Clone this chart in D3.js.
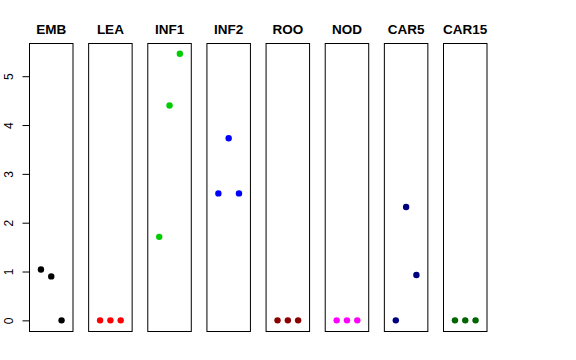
<!DOCTYPE html>
<html lang="en">
<head>
    <meta charset="UTF-8">
    <title>Panels</title>
    <script src="https://d3js.org/d3.v7.min.js"></script>
    <style>
        body { margin: 0; padding: 0; background: #fff; }
        svg { display: block; font-family: 'Liberation Sans', Arial, sans-serif; }
        .title { font-weight: bold; font-size: 13.5px; }
        .axis text { font-size: 12px; }
    </style>
</head>
<body>
    <svg width="576" height="360"></svg>
    <script>
        // Data
        const categories = ["EMB", "LEA", "INF1", "INF2", "ROO", "NOD", "CAR5", "CAR15"];
        const seriesValues = [
            [1.04, 0.90, 0.00],
            [0.00, 0.00, 0.00],
            [1.71, 4.40, 5.46],
            [2.60, 3.73, 2.60],
            [0.00, 0.00, 0.00],
            [0.00, 0.00, 0.00],
            [0.00, 2.32, 0.93],
            [0.00, 0.00, 0.00]
        ];
        const colors = ["#000000", "#ff0000", "#00cd00", "#0000ff", "#8b0000", "#ff00ff", "#000080", "#006400"];
        const yTicks = [0, 1, 2, 3, 4, 5];

        const svg = d3.select("svg");

        const panel = d3.scaleBand()
            .domain(categories)
            .range([29, 487.5])
            .paddingInner(0.2476);

        const x = d3.scaleLinear()
            .domain([-0.16, 4.16])
            .range([0, panel.bandwidth()]);

        const y = d3.scaleLinear()
            .domain([-0.218, 5.68])
            .range([331, 43]);

        const g = svg.selectAll("g.panel")
            .data(categories)
            .join("g")
            .attr("class", "panel")
            .attr("transform", d => `translate(${panel(d)},0)`);

        g.append("rect")
            .attr("x", 0.5)
            .attr("y", y.range()[1] + 0.5)
            .attr("width", panel.bandwidth() - 1)
            .attr("height", y.range()[0] - y.range()[1])
            .attr("fill", "none")
            .attr("stroke", "#000");

        g.append("text")
            .attr("class", "title")
            .attr("x", panel.bandwidth() / 2)
            .attr("y", 34)
            .attr("text-anchor", "middle")
            .text(d => d);

        g.selectAll("circle")
            .data((d, i) => seriesValues[i].map((v, j) => ({ v, j, c: colors[i] })))
            .join("circle")
            .attr("cx", d => x(d.j + 1))
            .attr("cy", d => y(d.v))
            .attr("r", 3.2)
            .attr("fill", d => d.c);

        // y axis on the first panel only
        const axis = svg.append("g")
            .attr("class", "axis")
            .attr("transform", `translate(${panel(categories[0]) + 0.5},0)`)
            .call(d3.axisLeft(y).tickValues(yTicks).tickSize(7).tickSizeOuter(0).tickFormat(d3.format("d")));

        axis.select(".domain").attr("d", `M0,${y(0)}V${y(5)}`);
        axis.selectAll(".tick text")
            .attr("transform", "rotate(-90)")
            .attr("x", 0)
            .attr("y", -21)
            .attr("dy", "0.35em")
            .attr("text-anchor", "middle");
    </script>
</body>
</html>
